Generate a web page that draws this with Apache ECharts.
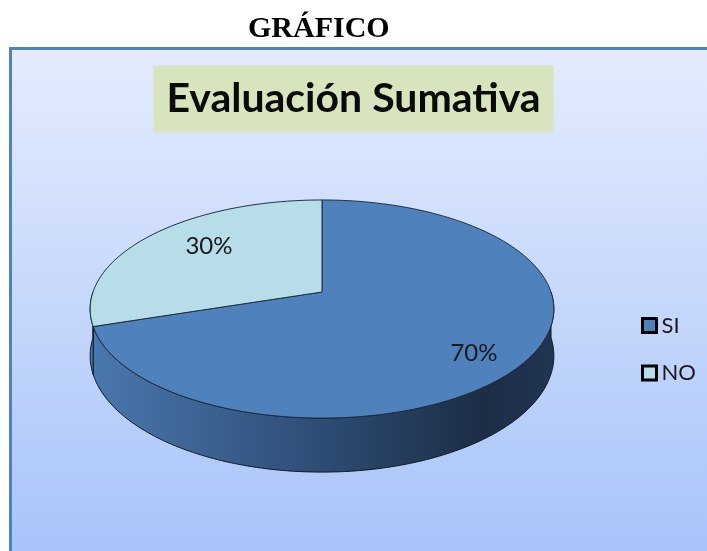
<!DOCTYPE html>
<html>
<head>
<meta charset="utf-8">
<title>Evaluación Sumativa</title>
<script src="https://cdn.jsdelivr.net/npm/echarts@6/dist/echarts.min.js"></script>
<style>
    html, body { margin: 0; padding: 0; background: #fff; }
    #grafico { width: 707px; height: 551px; }
</style>
</head>
<body>
<div id="grafico"></div>
<script>
// datos
var categorias = ['SI', 'NO'];
var valores = [70, 30];
var colores = ['#4f81bd', '#b7dde8'];

// pastel 3D: centro, radios, perspectiva, grosor
var CX = 322, CY = 292, RX = 229, RY = 106.4, PERSP = 0.156, GROSOR = 45.6;
var LABEL_R = [0.82, 0.61];

var total = 0;
for (var k = 0; k < valores.length; k++) {
    total += valores[k];
}

// angulo desde las 12 en punto, sentido horario
function proyectar(ang, r) {
    var s = Math.sin(ang) * r, c = Math.cos(ang) * r;
    var w = 1 + PERSP * c;
    return [CX + RX * s / w, CY - RY * c / w];
}

function arco(a0, a1) {
    var pts = [];
    var n = Math.max(2, Math.ceil((a1 - a0) / (Math.PI / 180)));
    for (var j = 0; j <= n; j++) {
        pts.push(proyectar(a0 + (a1 - a0) * j / n, 1));
    }
    return pts;
}

function renderPorcion(params, api) {
    var i = params.seriesIndex;
    var antes = 0;
    for (var k = 0; k < i; k++) antes += valores[k];
    var v = api.value(0);
    var a0 = antes / total * Math.PI * 2;
    var a1 = (antes + v) / total * Math.PI * 2;
    var hijos = [];

    // lateral (solo la mitad frontal)
    var f0 = Math.max(a0, Math.PI / 2), f1 = Math.min(a1, Math.PI * 1.5);
    if (f1 > f0) {
        var arriba = arco(f0, f1);
        var abajo = [];
        for (var j = arriba.length - 1; j >= 0; j--) {
            var ang = f0 + (f1 - f0) * j / (arriba.length - 1);
            var w = 1 + PERSP * Math.cos(ang);
            abajo.push([arriba[j][0], arriba[j][1] + GROSOR / w]);
        }
        hijos.push({
            type: 'polygon',
            shape: { points: arriba.concat(abajo) },
            style: {
                fill: new echarts.graphic.LinearGradient(CX - 232, 0, CX + 232, 0, [
                    { offset: 0, color: '#4a78ae' },
                    { offset: 0.45, color: '#30517a' },
                    { offset: 0.85, color: '#1c2d45' },
                    { offset: 1, color: '#213553' }
                ], true),
                stroke: '#111a26',
                lineWidth: 1
            }
        });
    }

    // cara superior
    var sup = [[CX, CY]].concat(arco(a0, a1));
    hijos.push({
        type: 'polygon',
        shape: { points: sup },
        style: {
            fill: api.visual('color'),
            stroke: '#1f2d40',
            lineWidth: 1
        }
    });

    // etiqueta
    var am = (a0 + a1) / 2;
    var lr = LABEL_R[i];
    hijos.push({
        type: 'text',
        x: CX + RX * Math.sin(am) * lr,
        y: CY - RY * 1.2 * Math.cos(am) * lr,
        style: {
            text: Math.round(v / total * 100) + '%',
            fill: '#1a1a1a',
            fontFamily: 'Lato',
            fontSize: 24,
            align: 'center',
            verticalAlign: 'middle'
        }
    });

    return { type: 'group', children: hijos };
}

var series = [];
for (var i = 0; i < categorias.length; i++) {
    series.push({
        name: categorias[i],
        type: 'custom',
        coordinateSystem: 'none',
        itemStyle: { color: colores[i] },
        renderItem: renderPorcion,
        data: [valores[i]]
    });
}

var grafico = echarts.init(document.getElementById('grafico'));

var option = {
    animation: false,
    graphic: [{
        type: 'rect',
        z: -1,
        shape: { x: 10.5, y: 48.5, width: 760, height: 560 },
        style: {
            fill: new echarts.graphic.LinearGradient(0, 0, 0, 1, [
                { offset: 0, color: '#e4ecfd' },
                { offset: 1, color: '#a1bff9' }
            ]),
            stroke: '#4f81bd',
            lineWidth: 3
        }
    }],
    title: [{
            text: 'GRÁFICO',
            left: 248,
            top: 14,
            padding: 0,
            textStyle: {
                fontFamily: 'Liberation Serif',
                fontWeight: 'bold',
                fontSize: 30,
                lineHeight: 30,
                color: '#000'
            }
        },
        {
            text: 'Evaluación Sumativa',
            left: 'center',
            top: 66,
            padding: [13, 13, 13, 13],
            backgroundColor: '#d7e4bd',
            textStyle: {
                fontFamily: 'Lato',
                fontWeight: 'bold',
                fontSize: 41,
                lineHeight: 40,
                color: '#0a0a0a'
            }
        }
    ],
    legend: {
        orient: 'vertical',
        left: 636,
        top: 309.5,
        icon: 'rect',
        itemWidth: 14,
        itemHeight: 14,
        itemGap: 25.5,
        selectedMode: false,
        itemStyle: { borderColor: '#000', borderWidth: 3 },
        textStyle: {
            fontFamily: 'Lato',
            fontSize: 22,
            lineHeight: 22,
            color: '#1a1a1a'
        },
        data: categorias
    },
    series: series
};

grafico.setOption(option);
</script>
</body>
</html>
